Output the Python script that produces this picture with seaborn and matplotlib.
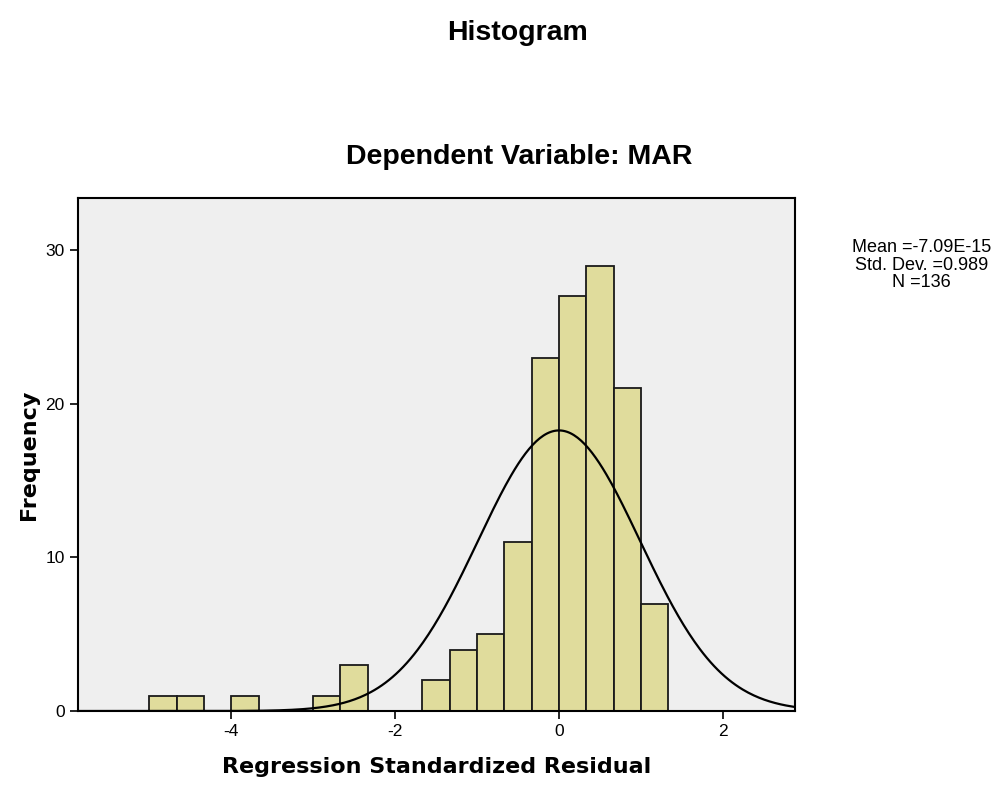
import numpy as np
import seaborn as sns
import matplotlib.pyplot as plt

# residual bins (width 1/3) and counts
bin_edges = [-5.0, -4.667, -4.333, -4.0, -3.667, -3.333, -3.0, -2.667, -2.333,
             -2.0, -1.667, -1.333, -1.0, -0.667, -0.333, 0.0, 0.333, 0.667,
             1.0, 1.333]
counts = [1, 1, 0, 1, 0, 0, 1, 3, 0, 0, 2, 4, 5, 11, 23, 27, 29, 21, 7]

mean_val = -7.09e-15
std_val = 0.989
n_val = 136
x_ticks = [-4, -2, 0, 2]
y_ticks = [0, 10, 20, 30]

sns.set_style("white")
plt.rcParams['font.family'] = ['Liberation Sans', 'DejaVu Sans']
plt.rcParams['axes.unicode_minus'] = False
plt.rcParams['text.color'] = 'black'

fig = plt.figure(figsize=(9.98, 7.94), dpi=100)
ax = fig.add_axes([0.0782, 0.1045, 0.7184, 0.6461])
ax.set_facecolor('#efefef')

centers = [(a + b) / 2 for a, b in zip(bin_edges[:-1], bin_edges[1:])]
sns.histplot(x=centers, weights=counts, bins=bin_edges, ax=ax,
             color='#e0dc9c', alpha=1.0, edgecolor='#1a1a1a', linewidth=1.3)

# normal curve scaled to counts
width = bin_edges[1] - bin_edges[0]
xs = np.linspace(-5.87, 2.88, 400)
ys = n_val * width / (std_val * np.sqrt(2 * np.pi)) * np.exp(-0.5 * ((xs - mean_val) / std_val) ** 2)
sns.lineplot(x=xs, y=ys, ax=ax, color='black', linewidth=1.6)

ax.set_xlim(-5.87, 2.88)
ax.set_ylim(0, 33.4)
ax.set_xticks(x_ticks)
ax.set_yticks(y_ticks)
ax.tick_params(axis='both', direction='out', length=6, width=1.2, labelsize=12.5,
               bottom=True, left=True, colors='black')
for s in ax.spines.values():
    s.set_visible(True)
    s.set_color('black')
    s.set_linewidth(1.5)

ax.set_xlabel('Regression Standardized Residual', fontsize=16, fontweight='bold',
              family='DejaVu Sans', color='black', labelpad=13)
ax.set_ylabel('Frequency', fontsize=16, fontweight='bold',
              family='DejaVu Sans', color='black', labelpad=5)

fig.text(0.5185, 0.958, 'Histogram', ha='center', va='center', fontsize=20.5, fontweight='bold')
fig.text(0.5205, 0.802, 'Dependent Variable: MAR', ha='center', va='center', fontsize=20.5, fontweight='bold')
fig.text(0.923, 0.666, 'Mean =-7.09E-15\nStd. Dev. =0.989\nN =136', ha='center', va='center',
         fontsize=13, linespacing=1.05)

fig.savefig('out.png', dpi=100)
